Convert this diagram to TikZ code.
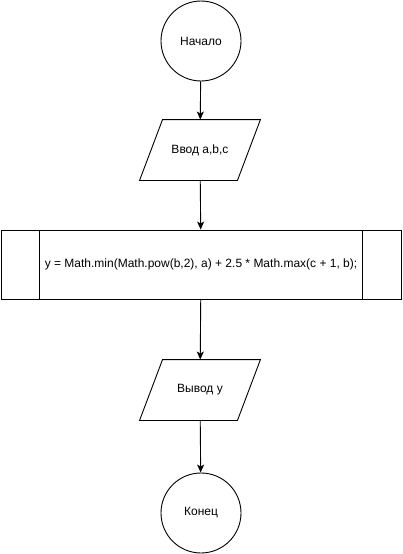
\documentclass[tikz,border=0pt]{standalone}
\usepackage{fontspec}
\setmainfont{Liberation Sans}
\usetikzlibrary{shapes.geometric, arrows.meta, positioning, calc}

\begin{document}
\begin{tikzpicture}[x=1pt, y=-1pt,
		every node/.style={font=\fontsize{12}{14}\selectfont, line width=0.9pt},
		term/.style={draw, circle, minimum size=80pt, inner sep=0pt},
		io/.style={rectangle, minimum width=120pt, minimum height=60pt, inner sep=0pt},
		calc/.style={draw, rectangle, minimum width=400pt, minimum height=69pt, inner sep=0pt},
		flow/.style={line width=0.9pt, -{Stealth[length=8pt, width=7pt, inset=2pt]}}]
	\useasboundingbox (0,0) rectangle (402,554);
	
	% Draw blocks
	\node[term] (start) at (201,41) {Начало};
	\node[io] (input) at (200,150) {Ввод a,b,c};
	\node[calc] (formula) at (201,264.5) {y = Math.min(Math.pow(b,2), a) + 2.5 * Math.max(c + 1, b);};
	\node[io] (output) at (200,390) {Вывод y};
	\node[term] (stop) at (201,513) {Конец};
	
	% Parallelogram outlines of input/output
	\foreach \blk in {input, output}
		\draw[line width=0.9pt] ($(\blk.north west)+(23,0)$) -- (\blk.north east)
			-- ($(\blk.south east)+(-23,0)$) -- (\blk.south west) -- cycle;
	
	% Side bars of the process block
	\draw[line width=0.9pt] ($(formula.north west)+(39,0)$) -- ($(formula.south west)+(39,0)$);
	\draw[line width=0.9pt] ($(formula.north east)+(-39,0)$) -- ($(formula.south east)+(-39,0)$);
	
	% Draw connectors
	\draw[flow] (start) -- (input);
	\draw[flow] (input) -- (formula);
	\draw[flow] (formula) -- (output);
	\draw[flow] (output) -- (stop);
\end{tikzpicture}
\end{document}
